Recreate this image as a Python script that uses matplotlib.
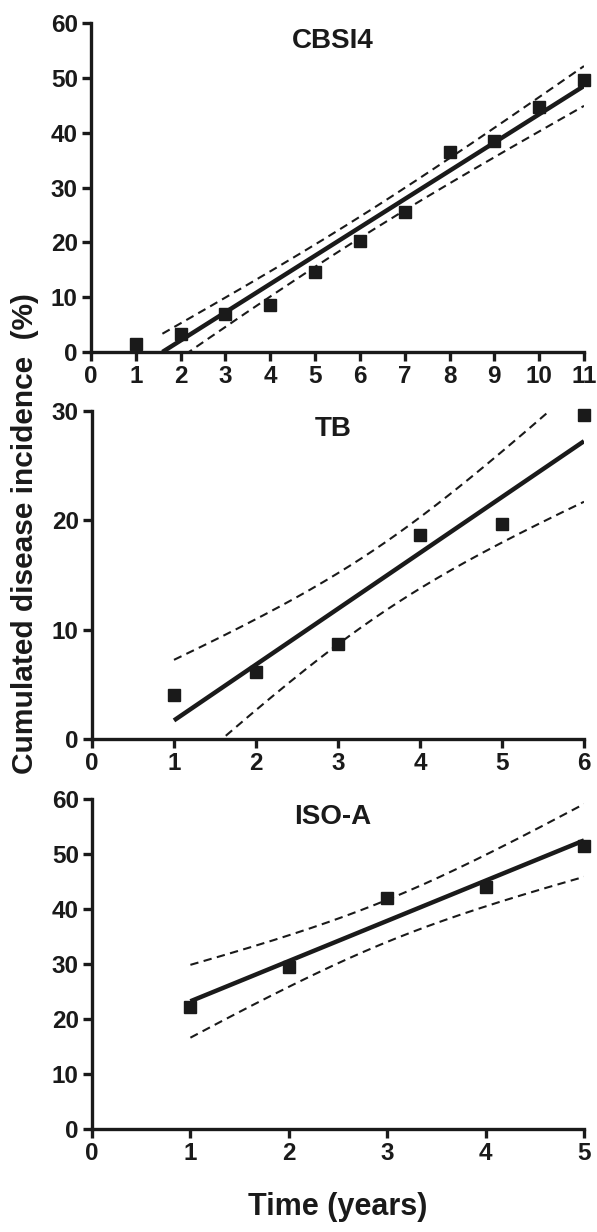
import numpy as np
import matplotlib
matplotlib.use("Agg")
from matplotlib import pyplot as plt

plt.rcParams['font.family'] = ['Liberation Sans', 'DejaVu Sans']
plt.rcParams['font.weight'] = 'bold'

# data
cbsi4_years = [1, 2, 3, 4, 5, 6, 7, 8, 9, 10, 11]
cbsi4_incidence = [1.5, 3.3, 7.0, 8.6, 14.5, 20.3, 25.5, 36.5, 38.5, 44.7, 49.6]

tb_years = [1, 2, 3, 4, 5, 6]
tb_incidence = [4.0, 6.1, 8.7, 18.7, 19.7, 29.6]

isoa_years = [1, 2, 3, 4, 5]
isoa_incidence = [22.2, 29.5, 42.0, 44.0, 51.5]

# two-sided 95% t critical values by degrees of freedom
t_crit = {3: 3.182, 4: 2.776, 9: 2.262}

ink = '#1a1a1a'


def fit_panel(ax, xs, ys, title, xmax, ymax, ystep):
    x = np.array(xs, float)
    y = np.array(ys, float)
    slope, icpt = np.polyfit(x, y, 1)
    n = len(x)
    resid = y - (slope*x + icpt)
    s = np.sqrt(np.sum(resid**2)/(n-2))
    sxx = np.sum((x - x.mean())**2)
    x0 = max(x.min(), -icpt/slope)
    xx = np.linspace(x0, x.max(), 200)
    yy = slope*xx + icpt
    half = t_crit[n-2]*s*np.sqrt(1.0/n + (xx - x.mean())**2/sxx)

    ax.plot(xx, yy, color=ink, lw=3.2, solid_capstyle='butt', zorder=3)
    ax.plot(xx, yy + half, color=ink, lw=1.5, dashes=(4, 2.6), zorder=2)
    ax.plot(xx, yy - half, color=ink, lw=1.5, dashes=(4, 2.6), zorder=2)
    ax.plot(x, y, 's', color=ink, ms=8, zorder=4, clip_on=False)

    ax.set_xlim(0, xmax)
    ax.set_ylim(0, ymax)
    ax.set_xticks(range(0, xmax+1))
    ax.set_yticks(range(0, ymax+1, ystep))
    ax.spines['top'].set_visible(False)
    ax.spines['right'].set_visible(False)
    for sp in ['left', 'bottom']:
        ax.spines[sp].set_linewidth(2.4)
        ax.spines[sp].set_color(ink)
    ax.tick_params(width=2.4, length=6.5, color=ink, labelcolor=ink, pad=3)
    for lab in ax.get_xticklabels() + ax.get_yticklabels():
        lab.set_fontweight('bold')
        lab.set_family(['Liberation Sans Narrow', 'Liberation Sans', 'DejaVu Sans'])
        lab.set_fontsize(17.5)
    ax.text(0.49, 0.985, title, transform=ax.transAxes, ha='center', va='top',
            fontsize=20, fontweight='bold', color=ink)


fig = plt.figure(figsize=(5.97, 12.32), dpi=100)
ax1 = fig.add_axes([0.1524, 0.7143, 0.8258, 0.2670])
ax2 = fig.add_axes([0.1541, 0.4002, 0.8241, 0.2662])
ax3 = fig.add_axes([0.1541, 0.0836, 0.8241, 0.2679])

fit_panel(ax1, cbsi4_years, cbsi4_incidence, 'CBSI4', 11, 60, 10)
fit_panel(ax2, tb_years, tb_incidence, 'TB', 6, 30, 10)
fit_panel(ax3, isoa_years, isoa_incidence, 'ISO-A', 5, 60, 10)

fig.text(0.042, 0.567, 'Cumulated disease incidence  (%)', rotation=90,
         ha='center', va='center', fontsize=21.5, fontweight='bold', color=ink)
fig.text(0.565, 0.02, 'Time (years)', ha='center', va='center',
         fontsize=22, fontweight='bold', color=ink)

fig.savefig('out.png', dpi=100)
